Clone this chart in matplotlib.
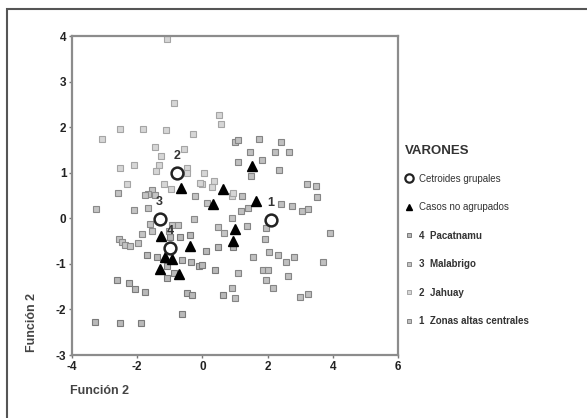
import matplotlib
matplotlib.use("Agg")
import matplotlib.pyplot as plt
from matplotlib.lines import Line2D
from matplotlib.patches import Rectangle

plt.rcParams['font.family'] = ['Liberation Sans', 'DejaVu Sans']
plt.rcParams['axes.unicode_minus'] = False

# Group 1: Zonas altas centrales
g1_x = [1.0, 1.1, 1.75, 2.41, 1.46, 2.23, 2.67, 1.10, 1.84, 1.48, 2.34, 3.2, 3.48, 3.52,
        2.40, 2.74, 3.04, 3.25, 1.18, 1.41, 1.94, 1.36, 3.91, 1.92, 1.56, 2.05, 2.31, 2.56,
        2.82, 3.69, 1.08, 1.85, 2.0, 1.94, 2.64, 2.18, 2.99, 3.23, 1.0, 1.2, 0.90]
g1_y = [1.67, 1.71, 1.73, 1.67, 1.45, 1.45, 1.45, 1.24, 1.28, 0.93, 1.07, 0.75, 0.71, 0.47,
        0.31, 0.27, 0.15, 0.2, 0.16, 0.23, -0.22, -0.17, -0.33, -0.46, -0.84, -0.75, -0.80, -0.95,
        -0.84, -0.95, -1.19, -1.13, -1.13, -1.35, -1.27, -1.52, -1.72, -1.67, -1.75, 0.48, -1.54]

# Group 2: Jahuay
g2_x = [-1.1, -0.88, -1.82, -2.52, -1.12, -0.30, -3.08, -1.46, -0.56, -1.27, -2.52, -2.10,
        -1.32, -1.42, -0.47, -0.47, 0.52, 0.56, 0.06, 0.36, -0.02, 0.29, 0.90, 0.95, -0.06,
        -1.19, -0.95, -2.30]
g2_y = [3.93, 2.54, 1.97, 1.95, 1.93, 1.86, 1.73, 1.57, 1.51, 1.37, 1.11, 1.18,
        1.18, 1.03, 1.10, 1.0, 2.27, 2.07, 1.0, 0.82, 0.76, 0.69, 0.49, 0.55, 0.78,
        0.75, 0.64, 0.76]

# Group 3: Malabrigo
g3_x = [-0.24, -1.55, -1.67, -1.76, -1.45, -3.26, -2.58, -2.09, -1.66, 0.13, -0.27, -1.6,
        -1.55, -1.85, -0.93, -0.75, -1.03, -2.57, -2.47, -2.37, -2.21, -1.98, 0.49, 0.66, 0.90]
g3_y = [0.48, 0.62, 0.53, 0.52, 0.52, 0.2, 0.55, 0.18, 0.23, 0.34, -0.02, -0.12,
        -0.28, -0.35, -0.15, -0.15, -0.28, -0.46, -0.53, -0.59, -0.61, -0.54, -0.19, -0.33, 0.01]

# Group 4: Pacatnamu
g4_x = [-0.98, -0.68, -0.37, -1.70, -1.39, -0.63, -0.34, -0.10, -1.09, -0.88, -1.09, -2.62,
        -2.26, -2.06, -1.77, -0.47, -0.32, -0.63, -3.30, -2.54, -1.88, 0.93, 0.49, 0.11,
        -0.02, 0.39, 0.64]
g4_y = [-0.42, -0.42, -0.37, -0.81, -0.86, -0.92, -0.95, -1.05, -1.05, -1.19, -1.30, -1.36,
        -1.41, -1.56, -1.61, -1.63, -1.68, -2.09, -2.27, -2.30, -2.29, -0.62, -0.62, -0.72,
        -1.03, -1.13, -1.68]

# Ungrouped cases
tri_x = [-0.65, 1.51, 0.64, 1.64, 0.33, 1.0, 0.93, -1.27, -0.37, -1.14, -0.93, -1.29, -0.71]
tri_y = [0.66, 1.15, 0.64, 0.38, 0.31, -0.24, -0.50, -0.39, -0.61, -0.86, -0.90, -1.12, -1.23]

# Group centroids
cent_labels = ["1", "2", "3", "4"]
cent_x = [2.09, -0.77, -1.31, -0.98]
cent_y = [-0.04, 1.0, -0.02, -0.66]

legend_title = "VARONES"
legend_labels = ["Cetroides grupales", "Casos no agrupados", "4  Pacatnamu",
                 "3  Malabrigo", "2  Jahuay", "1  Zonas altas centrales"]

xticks = [-4, -2, 0, 2, 4, 6]
yticks = [-3, -2, -1, 0, 1, 2, 3, 4]

fig = plt.figure(figsize=(5.87, 4.18), dpi=100)
ax = fig.add_axes([72/587, 1-355/418, (398-72)/587, (355-36)/418])

group_styles = [
    (g4_x, g4_y, '#b9b9b9', '#7a7a7a'),
    (g3_x, g3_y, '#c4c4c4', '#8a8a8a'),
    (g2_x, g2_y, '#d6d6d6', '#a5a5a5'),
    (g1_x, g1_y, '#c0c0c0', '#858585'),
]
for gx, gy, fc, ec in group_styles:
    ax.plot(gx, gy, linestyle='none', marker='s', markersize=4.0,
            markerfacecolor=fc, markeredgecolor=ec, markeredgewidth=0.8, zorder=2)

ax.plot(tri_x, tri_y, linestyle='none', marker='^', markersize=7,
        color='black', zorder=3)
ax.plot(cent_x, cent_y, linestyle='none', marker='o', markersize=8.5,
        markerfacecolor='white', markeredgecolor='#222222', markeredgewidth=1.8, zorder=4)
for lab, cx, cy in zip(cent_labels, cent_x, cent_y):
    ax.annotate(lab, (cx, cy), xytext=(0, 8), textcoords='offset points',
                ha='center', va='bottom', fontsize=9, fontweight='bold', color='#333333')

ax.set_xlim(-4, 6)
ax.set_ylim(-3, 4)
ax.set_xticks(xticks)
ax.set_yticks(yticks)
ax.tick_params(direction='out', length=2, width=1, colors='#777777',
               labelsize=8.5, labelcolor='#222222', pad=2)
for lbl in ax.get_xticklabels() + ax.get_yticklabels():
    lbl.set_fontweight('bold')
for sp in ax.spines.values():
    sp.set_color('#8c8c8c')
    sp.set_linewidth(1.6)

handles = [
    Line2D([], [], linestyle='none', marker='o', markersize=6, markerfacecolor='white',
           markeredgecolor='#222222', markeredgewidth=1.6),
    Line2D([], [], linestyle='none', marker='^', markersize=5, color='black'),
    Line2D([], [], linestyle='none', marker='s', markersize=3.5, markerfacecolor='#b9b9b9',
           markeredgecolor='#7a7a7a', markeredgewidth=0.7),
    Line2D([], [], linestyle='none', marker='s', markersize=3.5, markerfacecolor='#c4c4c4',
           markeredgecolor='#8a8a8a', markeredgewidth=0.7),
    Line2D([], [], linestyle='none', marker='s', markersize=3.5, markerfacecolor='#d6d6d6',
           markeredgecolor='#a5a5a5', markeredgewidth=0.7),
    Line2D([], [], linestyle='none', marker='s', markersize=3.5, markerfacecolor='#c0c0c0',
           markeredgecolor='#858585', markeredgewidth=0.7),
]
leg = fig.legend(handles, legend_labels, title=legend_title, loc='upper left',
                 bbox_to_anchor=(403/587, 1-143/418), frameon=False, fontsize=7,
                 labelspacing=1.9, handlelength=0.8, handletextpad=0.6,
                 borderaxespad=0, borderpad=0.2,
                 title_fontproperties={'weight': 'bold', 'size': 9.5})
leg._legend_box.align = 'left'
leg._legend_box.sep = 12
leg.get_title().set_color('#333333')
for i, t in enumerate(leg.get_texts()):
    t.set_color('#333333')
    if i >= 2:
        t.set_fontweight('bold')

fig.text(32/587, 1-322/418, "Función 2", rotation=90, ha='center', va='center',
         fontsize=9, fontweight='bold', color='#444444')
fig.text(70/587, 1-391/418, "Función 2", ha='left', va='center',
         fontsize=9, fontweight='bold', color='#444444')

fig.patches.append(Rectangle((7/587, -0.1), 1.2, 1-9/418+0.1, transform=fig.transFigure,
                             fill=False, edgecolor='#555555', linewidth=1.5, clip_on=False))

fig.savefig("out.png", dpi=100)
